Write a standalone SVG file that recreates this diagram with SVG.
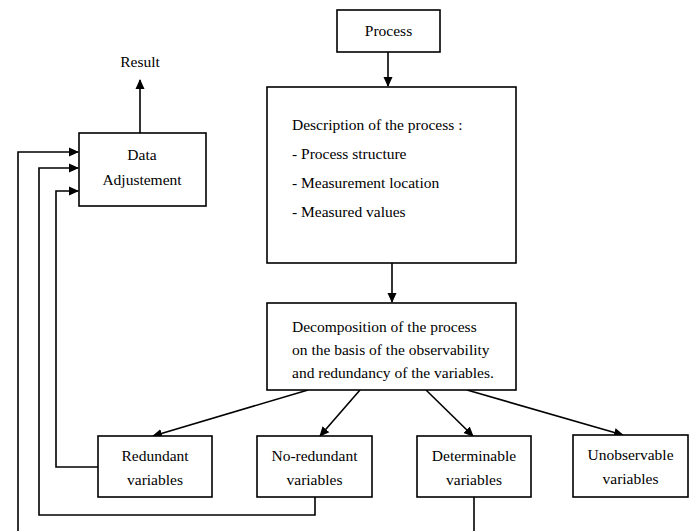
<svg xmlns="http://www.w3.org/2000/svg" width="692" height="531" viewBox="0 0 692 531">
<style>
.box{fill:#fff;stroke:#000;stroke-width:1.6}
.ln{fill:none;stroke:#000;stroke-width:1.6}
text{font-family:"Liberation Serif","Times New Roman",serif;font-size:15.5px;fill:#000}
.c{text-anchor:middle}
</style>
<defs>
<marker id="ah" markerWidth="10" markerHeight="10" refX="9" refY="5" orient="auto" markerUnits="userSpaceOnUse">
<path d="M0,0.5 L10,5 L0,9.5 Z" fill="#000"/>
</marker>
</defs>
<g id="connectors">
<line class="ln" x1="388" y1="52" x2="388" y2="86" marker-end="url(#ah)"/>
<line class="ln" x1="392" y1="263" x2="392" y2="302" marker-end="url(#ah)"/>
<line class="ln" x1="140" y1="133" x2="140" y2="80" marker-end="url(#ah)"/>
<line class="ln" x1="308" y1="390" x2="153" y2="436" marker-end="url(#ah)"/>
<line class="ln" x1="360" y1="390" x2="320" y2="436" marker-end="url(#ah)"/>
<line class="ln" x1="426" y1="390" x2="473" y2="436" marker-end="url(#ah)"/>
<line class="ln" x1="467" y1="390" x2="623" y2="435" marker-end="url(#ah)"/>
<polyline class="ln" points="18,531 18,152 78,152" marker-end="url(#ah)"/>
<polyline class="ln" points="315,497 315,515 39,515 39,168 78,168" marker-end="url(#ah)"/>
<polyline class="ln" points="98,467 56,467 56,191 78,191" marker-end="url(#ah)"/>
<line class="ln" x1="474" y1="497" x2="474" y2="531"/>
</g>
<g id="process">
<rect class="box" x="337" y="10" width="103" height="42"/>
<text class="c" x="388.5" y="36">Process</text>
</g>
<g id="description">
<rect class="box" x="267" y="87" width="249" height="176"/>
<text x="292" y="130">Description of the process :</text>
<text x="292" y="159">- Process structure</text>
<text x="292" y="188">- Measurement location</text>
<text x="292" y="217">- Measured values</text>
</g>
<g id="decomposition">
<rect class="box" x="267" y="303" width="249" height="87"/>
<text x="292" y="332">Decomposition of the process</text>
<text x="292" y="355">on the basis of the observability</text>
<text x="292" y="378">and redundancy of the variables.</text>
</g>
<g id="data-adjustement">
<rect class="box" x="79" y="133" width="127" height="73"/>
<text class="c" x="142" y="160">Data</text>
<text class="c" x="142" y="185">Adjustement</text>
</g>
<g id="result">
<text class="c" x="140" y="67">Result</text>
</g>
<g id="redundant">
<rect class="box" x="98" y="436" width="114" height="61"/>
<text class="c" x="155" y="461">Redundant</text>
<text class="c" x="155" y="485">variables</text>
</g>
<g id="no-redundant">
<rect class="box" x="257" y="436" width="115" height="61"/>
<text class="c" x="314.5" y="461">No-redundant</text>
<text class="c" x="314.5" y="485">variables</text>
</g>
<g id="determinable">
<rect class="box" x="417" y="436" width="114" height="61"/>
<text class="c" x="474" y="461">Determinable</text>
<text class="c" x="474" y="485">variables</text>
</g>
<g id="unobservable">
<rect class="box" x="573" y="435" width="115" height="62"/>
<text class="c" x="630.5" y="460">Unobservable</text>
<text class="c" x="630.5" y="484">variables</text>
</g>
</svg>
